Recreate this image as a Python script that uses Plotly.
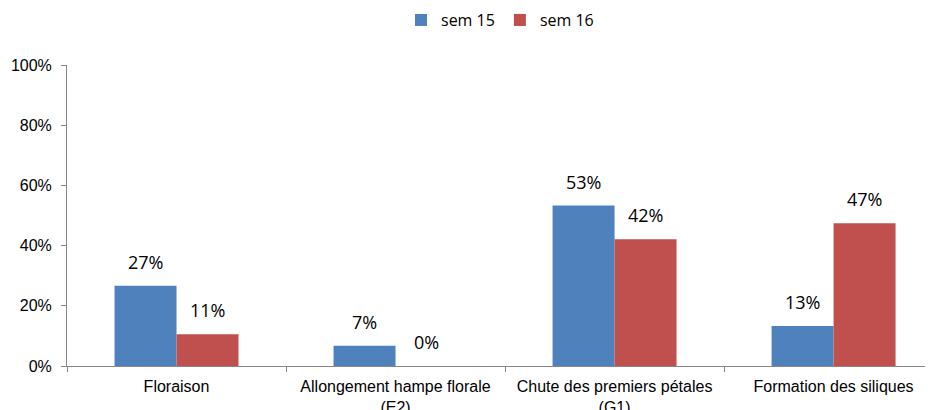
import plotly.graph_objects as go

categories = ["Floraison", "Allongement hampe florale<br>(E2)",
              "Chute des premiers pétales<br>(G1)", "Formation des siliques"]
sem15 = [26.7, 6.7, 53.3, 13.3]
sem16 = [10.53, 0.0, 42.1, 47.4]
series_names = ["sem 15", "sem 16"]
colors = ["#4F81BD", "#C0504D"]
y_ticks = [0, 20, 40, 60, 80, 100]

# page body has an 8px margin, so the figure is sized to fit the window
W, H = 925, 402
ML, MR, MT, MB = 59, 0, 57, 44
x_range = [-0.5, 3.454]
bargap = 0.434

fig = go.Figure()
for name, vals, col in zip(series_names, [sem15, sem16], colors):
    fig.add_trace(go.Bar(x=categories, y=vals, name=name, marker_color=col,
                         marker_line_width=0))

# data labels placed a bit above the bars
cat_px = (W - ML - MR) / (x_range[1] - x_range[0])
half_bar = cat_px * (1 - bargap) / 4
for i, vals in enumerate([sem15, sem16]):
    shift = -half_bar if i == 0 else half_bar
    for c, v in zip(categories, vals):
        fig.add_annotation(x=c, y=v, text=f"{v:.0f}%", showarrow=False,
                           xshift=shift, yshift=10, yanchor="bottom",
                           font=dict(family="Open Sans", size=18, color="#000000"))

fig.update_layout(
    width=W, height=H,
    margin=dict(l=ML, r=MR, t=MT, b=MB),
    paper_bgcolor="white", plot_bgcolor="white",
    barmode="group", bargap=bargap, bargroupgap=0,
    showlegend=True,
    legend=dict(orientation="h", x=0.5, xanchor="center", yref="container",
                y=0.970, yanchor="middle", font=dict(family="Open Sans", size=16, color="#000"),
                itemwidth=30, tracegroupgap=0),
    xaxis=dict(range=x_range, showline=True, linecolor="#868686", linewidth=1,
               ticks="outside", tickson="boundaries", ticklen=5, tickcolor="#868686",
               ticklabelstandoff=6, automargin=False,
               tickfont=dict(family="Liberation Sans", size=16, color="#000"),
               showgrid=False),
    yaxis=dict(range=[0, 100], tickvals=y_ticks, ticktext=[f"{t}%" for t in y_ticks],
               showline=True, linecolor="#868686", linewidth=1, ticks="outside",
               ticklen=5, tickcolor="#868686", showgrid=False, zeroline=False,
               ticklabelstandoff=6, automargin=False,
               tickfont=dict(family="Liberation Sans", size=16, color="#000")),
)

fig.write_html("out.html")
